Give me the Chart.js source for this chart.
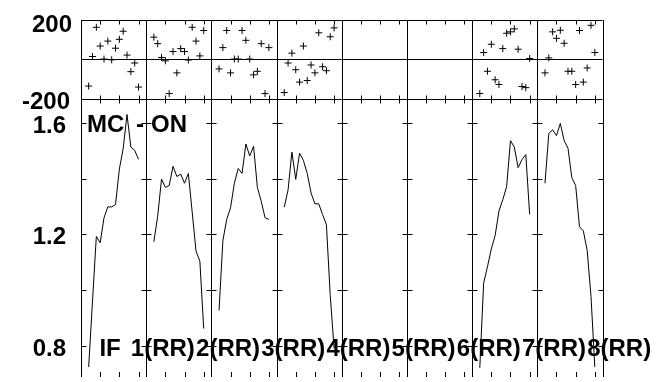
<!DOCTYPE html>
<html>
<head>
<meta charset="utf-8">
<script src="https://cdn.jsdelivr.net/npm/chart.js@4.4.1/dist/chart.umd.min.js"></script>
<style>
  html, body { margin: 0; padding: 0; background: #fff; }
  #wrap { width: 656px; height: 382px; }
</style>
</head>
<body>
<div id="wrap"><canvas id="chart" width="656" height="382"></canvas></div>
<script>
// x units per column, 8 columns side by side
const COLUMN_WIDTH = 17;
const COLUMN_COUNT = 8;
const X_POS = [2, 3, 4, 5, 6, 7, 8, 9, 10, 11, 12, 13, 14, 15];
const X_TICKS = [5, 10, 15];

// top panel (+ markers), one value per X_POS
const top1 = [-135, 15, 163, 68, 2, 93, -2, 57, 102, 143, 22, -62, -18, -140];
const top2 = [113, 80, 10, -7, -173, 40, -68, 55, 40, -3, 163, 93, 18, 147];
const top3 = [-48, 60, 147, -68, 2, 2, 147, 97, 2, -78, -60, 80, -173, 60];
const top4 = [-168, -18, 32, -52, -115, 68, -107, -28, -68, 135, -37, -57, 115, 160];
const top7 = [-173, 35, -60, 77, -103, -127, 55, 133, 140, 155, 52, -137, -143, 5];
const top8 = [-68, 8, 140, 107, 148, 82, -60, -60, -127, 147, -115, -43, 173, 35];

// bottom panel (lines)
const line1 = [0.723, 0.96, 1.192, 1.169, 1.259, 1.298, 1.298, 1.306, 1.434, 1.507, 1.630, 1.513, 1.501, 1.469];
const line2 = [1.173, 1.265, 1.398, 1.368, 1.375, 1.444, 1.407, 1.416, 1.383, 1.418, 1.279, 1.139, 1.103, 0.861];
const line3 = [0.926, 1.177, 1.253, 1.295, 1.383, 1.436, 1.418, 1.524, 1.481, 1.516, 1.368, 1.318, 1.259, 1.253];
const line4 = [1.297, 1.359, 1.495, 1.397, 1.491, 1.465, 1.418, 1.348, 1.309, 1.309, 1.271, 1.234, 0.98, 0.79];
const line7 = [0.720, 1.024, 1.083, 1.147, 1.195, 1.283, 1.324, 1.371, 1.536, 1.513, 1.439, 1.468, 1.486, 1.271];
const line8 = [1.383, 1.562, 1.575, 1.554, 1.598, 1.536, 1.509, 1.403, 1.375, 1.227, 1.212, 1.142, 0.977, 0.723];

const topSeries = [top1, top2, top3, top4, null, null, top7, top8];
const lineSeries = [line1, line2, line3, line4, null, null, line7, line8];

const TOP_LABELS = [200, -200];
const BOT_TICKS = [0.8, 1.0, 1.2, 1.4, 1.6];
const BOT_LABELS = ["0.8", "1.2", "1.6"];
const COLUMN_LABELS = ["1(RR)", "2(RR)", "3(RR)", "4(RR)", "5(RR)", "6(RR)", "7(RR)", "8(RR)"];
const LABEL_X = 13;   // where "k(RR)" starts inside a column
const IF_X = 4.8;

const FONT = 'bold 24px "Liberation Sans", Arial, sans-serif';

function toPoints(vals, col) {
  return vals.map((v, i) => ({ x: col * COLUMN_WIDTH + X_POS[i], y: v }));
}

const datasets = [];
topSeries.forEach((vals, c) => {
  if (!vals) return;
  datasets.push({
    data: toPoints(vals, c),
    yAxisID: "yTop",
    showLine: false,
    pointStyle: "cross",
    pointRadius: 3.5,
    borderColor: "#000",
    borderWidth: 1
  });
});
lineSeries.forEach((vals, c) => {
  if (!vals) return;
  datasets.push({
    data: toPoints(vals, c),
    yAxisID: "yBot",
    showLine: true,
    borderColor: "#000",
    borderWidth: 1,
    pointRadius: 0,
    tension: 0,
    fill: false
  });
});

const framePlugin = {
  id: "frame",
  beforeDatasetsDraw(chart) {
    const { ctx, chartArea: a, scales } = chart;
    const x = scales.x, yTop = scales.yTop, yBot = scales.yBot;
    const px = v => Math.round(x.getPixelForValue(v)) + 0.5;
    const top = Math.round(yTop.getPixelForValue(200)) + 0.5;
    const mid = Math.round(yTop.getPixelForValue(-200)) + 0.5;
    const zero = Math.round(yTop.getPixelForValue(0)) + 0.5;
    const bottom = a.bottom;

    ctx.save();
    ctx.strokeStyle = "#000";
    ctx.lineWidth = 1;
    ctx.beginPath();
    [top, mid, zero].forEach(y => {
      ctx.moveTo(a.left, y);
      ctx.lineTo(a.right, y);
    });
    for (let c = 0; c <= COLUMN_COUNT; c++) {
      const xx = px(c * COLUMN_WIDTH);
      ctx.moveTo(xx, top - 0.5);
      ctx.lineTo(xx, bottom);
      // y ticks of the bottom panel on every column border
      BOT_TICKS.forEach(v => {
        const yy = Math.round(yBot.getPixelForValue(v)) + 0.5;
        ctx.moveTo(c > 0 ? xx - 5 : xx, yy);
        ctx.lineTo(c < COLUMN_COUNT ? xx + 5 : xx, yy);
      });
    }
    for (let c = 0; c < COLUMN_COUNT; c++) {
      X_TICKS.forEach(t => {
        const xx = px(c * COLUMN_WIDTH + t);
        ctx.moveTo(xx, top);
        ctx.lineTo(xx, top + 4);
        ctx.moveTo(xx, mid - 4);
        ctx.lineTo(xx, mid + 4);
        ctx.moveTo(xx, bottom - 5);
        ctx.lineTo(xx, bottom);
      });
    }
    ctx.stroke();
    ctx.restore();
  },
  afterDatasetsDraw(chart) {
    const { ctx, chartArea: a, scales } = chart;
    const x = scales.x, yTop = scales.yTop, yBot = scales.yBot;
    ctx.save();
    ctx.fillStyle = "#000";
    ctx.font = FONT;
    ctx.textBaseline = "alphabetic";

    // axis labels
    ctx.textAlign = "right";
    ctx.fillText(String(TOP_LABELS[0]), 72, yTop.getPixelForValue(TOP_LABELS[0]) + 11.5);
    ctx.fillText(String(TOP_LABELS[1]), 70, yTop.getPixelForValue(TOP_LABELS[1]) + 10);
    BOT_LABELS.forEach(s => {
      ctx.fillText(s, 66, yBot.getPixelForValue(parseFloat(s)) + 10);
    });

    // panel titles
    ctx.textAlign = "left";
    ctx.fillText("MC", a.left + 6, 131.5);
    ctx.fillText("-", a.left + 55, 131.5);
    ctx.fillText("ON", a.left + 70, 131.5);

    const base = yBot.getPixelForValue(0.8) + 10;
    ctx.fillText("IF", x.getPixelForValue(IF_X), base);
    COLUMN_LABELS.forEach((s, c) => {
      ctx.fillText(s, x.getPixelForValue(c * COLUMN_WIDTH + LABEL_X), base);
    });
    ctx.restore();
  }
};

new Chart(document.getElementById("chart"), {
  type: "line",
  data: { datasets },
  options: {
    responsive: false,
    animation: false,
    events: [],
    layout: { padding: { left: 81, right: 53.5, top: 20, bottom: 0 } },
    plugins: { legend: { display: false }, tooltip: { enabled: false } },
    scales: {
      x: { type: "linear", min: 0, max: COLUMN_COUNT * COLUMN_WIDTH, display: false },
      // stacked on the left: the later one in this list ends up on top
      yBot: { type: "linear", position: "left", stack: "v", stackWeight: 282, min: 0.687, max: 1.686, display: false },
      yTop: { type: "linear", position: "left", stack: "v", stackWeight: 80, min: -200, max: 200, display: false }
    }
  },
  plugins: [framePlugin]
});
</script>
</body>
</html>
